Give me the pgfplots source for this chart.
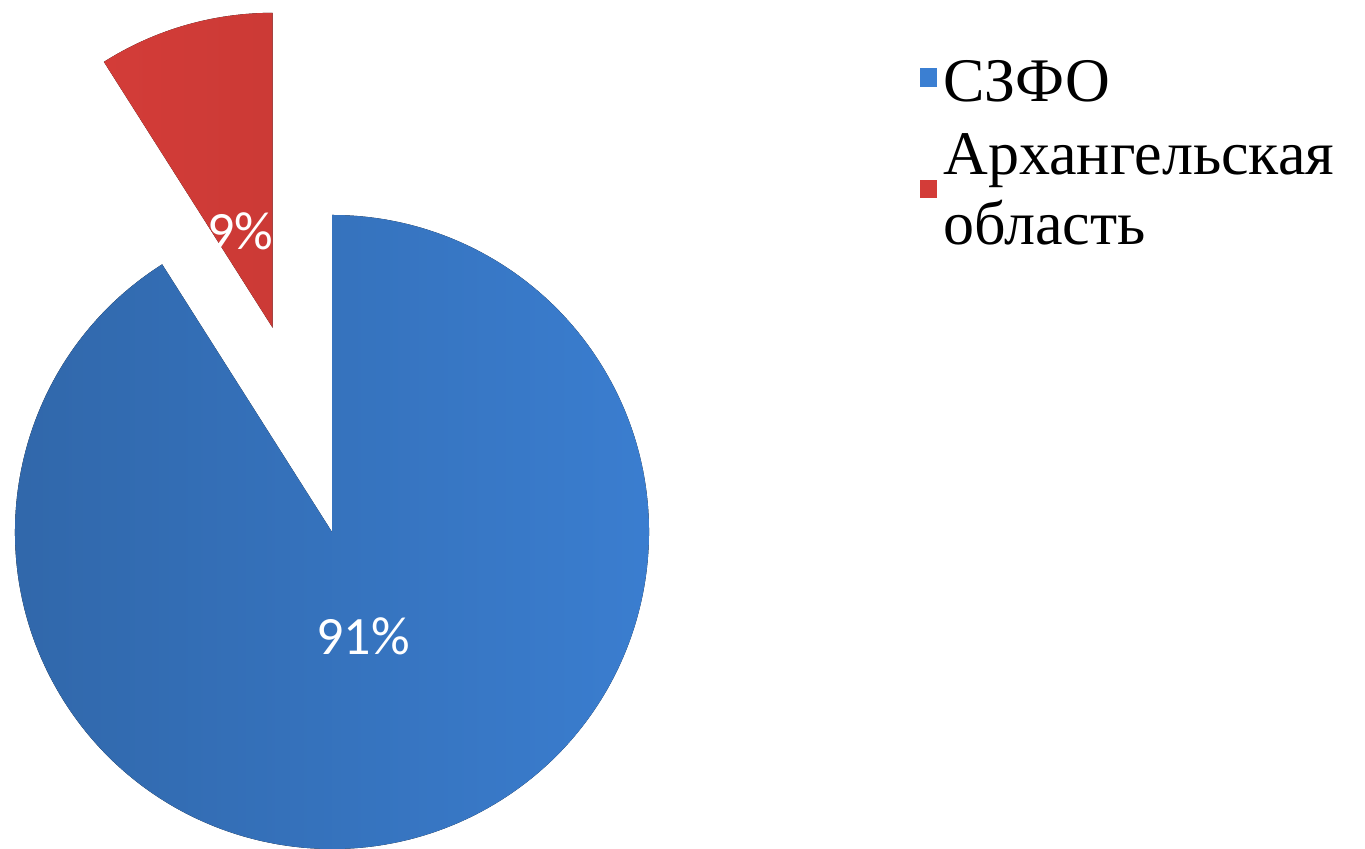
\documentclass[border=0pt]{standalone}
\usepackage{pgfplots}
\pgfplotsset{compat=1.18}
\usepackage{fontspec}
\setmainfont{Liberation Serif}
\newfontfamily\calib{Carlito}
\definecolor{blueL}{HTML}{3066A8}
\definecolor{blueR}{HTML}{3B7FD2}
\definecolor{redL}{HTML}{D33C38}
\definecolor{redR}{HTML}{C93935}
\begin{document}
\begin{tikzpicture}
\path[use as bounding box] (0,0) rectangle (682.5pt,424.5pt);
% data: shares in percent
\pgfmathsetmacro\va{91}
\pgfmathsetmacro\vb{9}
\pgfmathsetmacro\ab{360*\vb/(\va+\vb)}
\pgfmathsetmacro\mid{90+\ab/2}
\pgfmathsetmacro\sa{90+\ab}
\begin{axis}[at={(0,0)},anchor=south west, x=0.5pt,y=0.5pt,
  xmin=0,xmax=1365,ymin=0,ymax=849, hide axis, clip=false]
% blue slice
\fill[left color=blueL,right color=blueR]
  (axis cs:332,317) -- ++(\sa:158.5pt) arc[start angle=\sa, end angle=450, radius=158.5pt] -- cycle;
% red exploded slice
\fill[left color=redL,right color=redR]
  (axis cs:332,317) ++(\mid:106.3pt) -- ++(90:157.5pt) arc[start angle=90, end angle=\sa, radius=157.5pt] -- cycle;
% data labels
\node[text=white,font={\calib\fontsize{27}{30}\selectfont}] at (axis cs:363,213) {91\%};
\node[text=white,font={\calib\fontsize{27}{30}\selectfont}] at (axis cs:240,618) {9\%};
% legend
\fill[blueR] (axis cs:920,762) rectangle (axis cs:937,781);
\fill[redL] (axis cs:920,651) rectangle (axis cs:937,669);
\node[anchor=base west,inner sep=0pt,font={\fontsize{31}{35}\selectfont}] at (axis cs:943,747) {СЗФО};
\node[anchor=base west,inner sep=0pt,font={\fontsize{31}{35}\selectfont}] at (axis cs:943,674) {Архангельская};
\node[anchor=base west,inner sep=0pt,font={\fontsize{31}{35}\selectfont}] at (axis cs:943,604) {область};
\end{axis}
\end{tikzpicture}
\end{document}
